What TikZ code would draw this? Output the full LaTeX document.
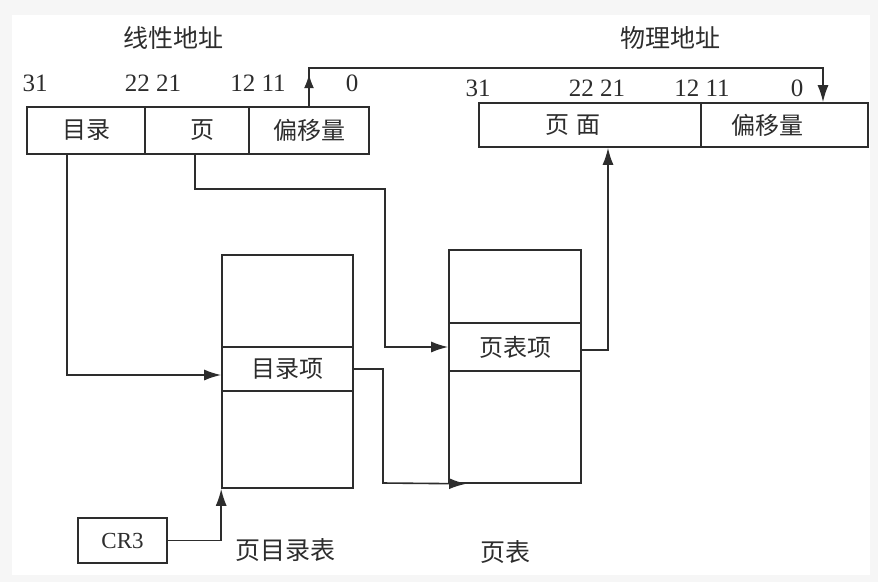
\documentclass[tikz,border=0pt]{standalone}
\usepackage{fontspec}
\setmainfont{Liberation Serif}
\newfontfamily\zhfont{Noto Sans CJK SC}
\usepackage{tikz}
\usetikzlibrary{arrows.meta,decorations.markings}
\definecolor{ink}{RGB}{45,45,45}
\definecolor{rim}{RGB}{246,246,246}
\tikzset{
  field/.style={draw=ink,line width=1.6pt,minimum height=47pt,inner sep=0pt,font=\zhfont\fontsize{24}{27}\selectfont,text=ink},
  tablebox/.style={draw=ink,line width=1.6pt,minimum width=131pt,minimum height=233pt,inner sep=0pt},
  entry/.style={draw=ink,line width=1.6pt,minimum width=131pt,inner sep=0pt,font=\zhfont\fontsize{24}{27}\selectfont,text=ink},
  title/.style={font=\zhfont\fontsize{25}{28}\selectfont,text=ink},
  bitno/.style={font=\fontsize{25}{28}\selectfont,text=ink,inner sep=0pt},
  link/.style={draw=ink,line width=1.6pt},
  arr/.style={link,-{Latex[length=17pt,width=11pt]}}
}
\begin{document}
\begin{tikzpicture}[x=1pt,y=-1pt]
\fill[rim](0,0)rectangle(878,582);
\fill[white](12,15)rectangle(870,575);
\useasboundingbox(0,0)rectangle(878,582);
% linear address
\node[title](ltitle)at(173,38){线性地址};
\node[field,minimum width=118pt](ldir)at(86,130.5){目录};
\node[field,minimum width=104pt](lpg)at(197,130.5){\kern10pt页};
\node[field,minimum width=120pt](loff)at(309,130.5){偏移量};
\node[bitno](lb31)at(35,83){31};
\node[bitno](lb22)at(153,83){22 21};
\node[bitno](lb12)at(258,83){12 11};
\node[bitno](lb0)at(352,83){0};
% physical address
\node[title](ptitle)at(670,38){物理地址};
\node[field,minimum width=222pt,minimum height=44pt](ppg)at(590,125){页\kern8pt面\kern34pt};
\node[field,minimum width=167pt,minimum height=44pt](poff)at(784.5,125){偏移量\kern35pt};
\node[bitno](pb31)at(478,88){31};
\node[bitno](pb22)at(597,88){22 21};
\node[bitno](pb12)at(702,88){12 11};
\node[bitno](pb0)at(797,88){0};
% tables
\node[tablebox](pdt)at(287.5,371.5){};
\node[entry,minimum height=44pt](pde)at(287.5,369){目录项};
\node[title](pdtname)at(285,550){页目录表};
\node[tablebox,minimum width=132pt](ptb)at(515,366.5){};
\node[entry,minimum width=132pt,minimum height=48pt](pte)at(515,347){页表项};
\node[title](ptbname)at(505,552){页表};
\node[field,minimum width=89pt,minimum height=45pt,font=\fontsize{23}{26}\selectfont](cr3)at(122.5,540.5){CR3};
% connectors
\draw[arr]([xshift=-19pt]ldir.south)|-([yshift=-6pt]pde.west);
\draw[arr]([xshift=-2pt]lpg.south)--++(0,34)-|(385,347)--(pte.west);
\draw[arr](pde.east)-|(383,483)--([xshift=18pt]ptb.south west);
\draw[arr]([yshift=-3pt]pte.east)-|([xshift=18pt]ppg.south);
\draw[arr](cr3.east)-|(pdt.south west);
\draw[arr,postaction={decorate},decoration={markings,
  mark=at position 32pt with {\arrow{Latex[length=14pt,width=10pt]}}}]
  (loff.north)--++(0,-38)-|([xshift=38.5pt]poff.north);
\end{tikzpicture}
\end{document}
